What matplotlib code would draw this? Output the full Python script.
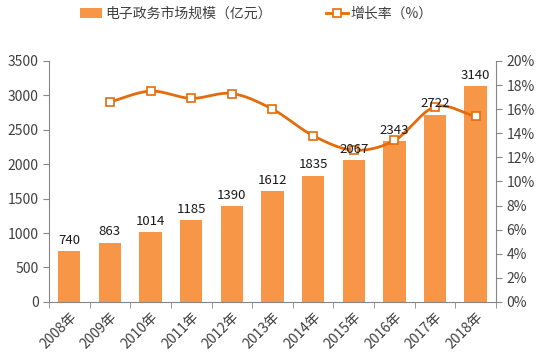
import matplotlib
matplotlib.use("Agg")
import matplotlib.pyplot as plt
import numpy as np

plt.rcParams['font.family'] = ['Noto Sans CJK SC', 'DejaVu Sans']

# 数据
years = ['2008年', '2009年', '2010年', '2011年', '2012年', '2013年',
         '2014年', '2015年', '2016年', '2017年', '2018年']
scale = [740, 863, 1014, 1185, 1390, 1612, 1835, 2067, 2343, 2722, 3140]
growth = [None, 16.6, 17.5, 16.9, 17.3, 16.0, 13.8, 12.6, 13.4, 16.2, 15.4]

bar_color = '#F79646'
line_color = '#E46C0A'
text_color = '#404040'


def catmull_rom(xs, ys, n=20):
    # 平滑曲线 (仅用于画线)
    xs = np.asarray(xs, float)
    ys = np.asarray(ys, float)
    px = np.concatenate([[2 * xs[0] - xs[1]], xs, [2 * xs[-1] - xs[-2]]])
    py = np.concatenate([[2 * ys[0] - ys[1]], ys, [2 * ys[-1] - ys[-2]]])
    outx, outy = [], []
    t = np.linspace(0, 1, n, endpoint=False)
    for i in range(1, len(px) - 2):
        for p, out in ((px, outx), (py, outy)):
            p0, p1, p2, p3 = p[i - 1], p[i], p[i + 1], p[i + 2]
            out.extend(0.5 * ((2 * p1) + (-p0 + p2) * t
                              + (2 * p0 - 5 * p1 + 4 * p2 - p3) * t ** 2
                              + (-p0 + 3 * p1 - 3 * p2 + p3) * t ** 3))
    outx.append(xs[-1])
    outy.append(ys[-1])
    return np.array(outx), np.array(outy)


fig = plt.figure(figsize=(5.4, 3.62), dpi=100)
ax1 = fig.add_axes([0.0907, 0.166, 0.8278, 0.6655])
x = np.arange(len(years))

bars = ax1.bar(x, scale, width=0.55, color=bar_color, zorder=2)

ax1.set_ylim(0, 3500)
ax1.set_yticks(range(0, 3501, 500))
ax1.set_xlim(-0.5, len(years) - 0.5)
ax1.set_xticks(x)
ax1.set_xticklabels(years, rotation=45, ha='right', rotation_mode='anchor')
ax1.set_xticks(np.arange(-0.5, len(years)), minor=True)
ax1.tick_params(axis='x', which='major', length=0, pad=6)
ax1.tick_params(axis='x', which='minor', length=4, color='#868686')
ax1.tick_params(axis='y', length=4, color='#868686')
ax1.tick_params(labelsize=10, labelcolor=text_color)
for s in ['top', 'right']:
    ax1.spines[s].set_visible(False)
for s in ['left', 'bottom']:
    ax1.spines[s].set_color('#868686')

ax2 = ax1.twinx()
gx = [xi for xi, g in zip(x, growth) if g is not None]
gy = [g for g in growth if g is not None]
sx, sy = catmull_rom(gx, gy)
ax2.plot(sx, sy, color=line_color, lw=2, zorder=3)
ax2.plot(gx, gy, ls='none', marker='s', ms=6, mfc='white',
         mec=line_color, mew=1.2, zorder=4)
ax2.set_ylim(0, 20)
ax2.set_yticks(range(0, 21, 2))
ax2.set_yticklabels([f'{v}%' for v in range(0, 21, 2)])
ax2.tick_params(axis='y', length=4, color='#868686', labelsize=10,
                labelcolor=text_color)
for s in ['top', 'left', 'bottom']:
    ax2.spines[s].set_visible(False)
ax2.spines['right'].set_color('#868686')

# 柱顶数值 (画在折线之上)
for xi, v in zip(x, scale):
    ax2.text(xi, v + 60, str(v), ha='center', va='bottom', fontsize=9.5,
             color='#1a1a1a', transform=ax1.transData, zorder=6)

# 图例
line_handle, = ax2.plot([], [], color=line_color, lw=2, marker='s', ms=6,
                        mfc='white', mec=line_color, mew=1.2)
fig.legend([bars, line_handle], ['电子政务市场规模（亿元）', '增长率（%）'],
           loc='upper left', bbox_to_anchor=(0.125, 1.015), ncol=2,
           frameon=False, fontsize=10, handlelength=1.6, handletextpad=0.2,
           columnspacing=3.9, labelcolor=text_color)

fig.savefig('out.png', dpi=100)
